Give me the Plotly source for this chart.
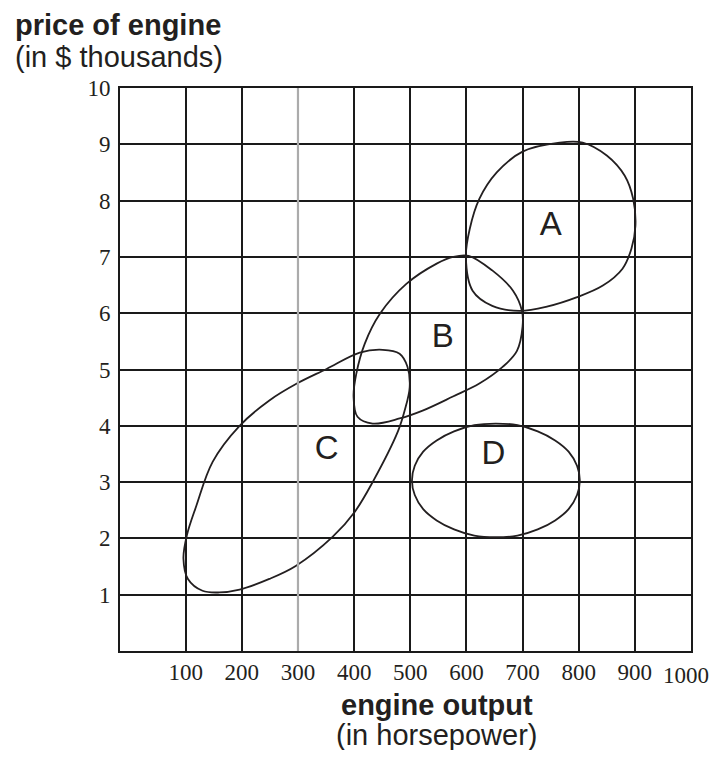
import plotly.graph_objects as go

# ---- data ----
x_ticks = [100, 200, 300, 400, 500, 600, 700, 800, 900, 1000]
x_tick_text = ["100", "200", "300", "400", "500", "600", "700", "800", "900", "1000"]
y_ticks = [1, 2, 3, 4, 5, 6, 7, 8, 9, 10]

a_hp = [599, 606, 623, 654, 700, 766, 807, 850, 882, 897, 901, 894, 878, 843, 796, 745, 695, 646, 611, 599]
a_price = [7.0, 7.5, 8.03, 8.5, 8.87, 9.03, 9.03, 8.8, 8.44, 8.03, 7.55, 7.15, 6.79, 6.49, 6.28, 6.12, 6.04, 6.13, 6.4, 7.0]

b_hp = [604, 646, 683, 699, 700, 690, 665, 623, 576, 522, 481, 433, 406, 399, 404, 419, 446, 493, 547, 576, 604]
b_price = [7.02, 6.76, 6.4, 6.04, 5.76, 5.33, 5.05, 4.75, 4.52, 4.27, 4.13, 4.04, 4.16, 4.52, 4.93, 5.46, 5.99, 6.52, 6.88, 7.0, 7.02]

c_hp = [102, 119, 148, 196, 249, 298, 351, 410, 451, 481, 495, 499, 490, 478, 433, 401, 362, 296, 249, 196, 160, 130, 104, 96, 102]
c_price = [2.05, 2.58, 3.36, 4.0, 4.45, 4.75, 5.01, 5.3, 5.35, 5.28, 5.05, 4.69, 4.27, 3.9, 3.0, 2.47, 2.03, 1.51, 1.28, 1.09, 1.04, 1.07, 1.28, 1.64, 2.05]

d_hp = [802, 797, 782, 758, 727, 691, 652, 614, 578, 547, 523, 508, 503, 508, 523, 547, 578, 614, 652, 691, 727, 758, 782, 797, 802]
d_price = [3.03, 3.29, 3.54, 3.74, 3.9, 4.01, 4.04, 4.01, 3.9, 3.74, 3.54, 3.29, 3.03, 2.77, 2.52, 2.32, 2.16, 2.05, 2.02, 2.05, 2.16, 2.32, 2.52, 2.77, 3.03]

labels = ["A", "B", "C", "D"]
label_hp = [750, 558, 351, 648]
label_price = [7.54, 5.55, 3.56, 3.47]

highlight_hp = 300

INK = "#231f20"
TICK_FONT = dict(family="Liberation Serif, Times New Roman, serif", size=23, color=INK)

fig = go.Figure()
for xs, ys in [(a_hp, a_price), (b_hp, b_price), (c_hp, c_price), (d_hp, d_price)]:
    fig.add_trace(go.Scatter(
        x=xs, y=ys, mode="lines",
        line=dict(color=INK, width=1.8, shape="spline", smoothing=1, simplify=False),
        hoverinfo="skip", showlegend=False,
    ))

fig.add_trace(go.Scatter(
    x=label_hp, y=label_price, mode="text", text=labels,
    textfont=dict(family="Liberation Sans, Arial, sans-serif", size=33, color=INK),
    hoverinfo="skip", showlegend=False,
))

# highlighted vertical gridline
fig.add_shape(type="line", x0=highlight_hp, x1=highlight_hp, y0=0, y1=10,
              xref="x", yref="y", line=dict(color="#ababab", width=2.2), layer="above")

axis_common = dict(
    showgrid=True, gridcolor="#1a1a1a", gridwidth=1.6,
    showline=True, linecolor="#1a1a1a", linewidth=1.6, mirror=True,
    zeroline=False, ticks="", tickfont=TICK_FONT, fixedrange=True,
)

# the last x label sits at the right edge of the figure; it is drawn as an
# annotation nudged slightly left so it is not clipped
fig.update_xaxes(range=[-17, 1000], tickvals=x_ticks,
                 ticktext=x_tick_text[:-1] + [""],
                 ticklabelstandoff=0, **axis_common)
fig.update_yaxes(range=[0, 10], tickvals=y_ticks, ticktext=[str(v) for v in y_ticks],
                 ticklabelstandoff=3, **axis_common)
fig.add_annotation(text=x_tick_text[-1], x=x_ticks[-1], y=0, xref="x", yref="y",
                   xanchor="center", yanchor="middle", xshift=-5, yshift=-24,
                   showarrow=False, font=TICK_FONT)

title_font = "Liberation Sans, Arial, sans-serif"
fig.add_annotation(text="<b>price of engine</b>", xref="paper", yref="paper",
                   x=-0.1874, y=1.112, xanchor="left", yanchor="middle", showarrow=False,
                   font=dict(family=title_font, size=29, color=INK))
fig.add_annotation(text="(in $ thousands)", xref="paper", yref="paper",
                   x=-0.1874, y=1.055, xanchor="left", yanchor="middle", showarrow=False,
                   font=dict(family=title_font, size=29, color=INK))
fig.add_annotation(text="<b>engine output</b>", xref="paper", yref="paper",
                   x=0.555, y=-0.0955, xanchor="center", yanchor="middle", showarrow=False,
                   font=dict(family=title_font, size=29, color=INK))
fig.add_annotation(text="(in horsepower)", xref="paper", yref="paper",
                   x=0.555, y=-0.149, xanchor="center", yanchor="middle", showarrow=False,
                   font=dict(family=title_font, size=29, color=INK))

# the page body adds an 8px margin on every side, so the figure is sized
# to fill the 717x758 window exactly together with that margin
fig.update_layout(
    width=701, height=742,
    margin=dict(l=112, r=18, t=80, b=99),
    paper_bgcolor="white", plot_bgcolor="white",
    showlegend=False,
)

fig.write_html("out.html", config={"displayModeBar": False})
